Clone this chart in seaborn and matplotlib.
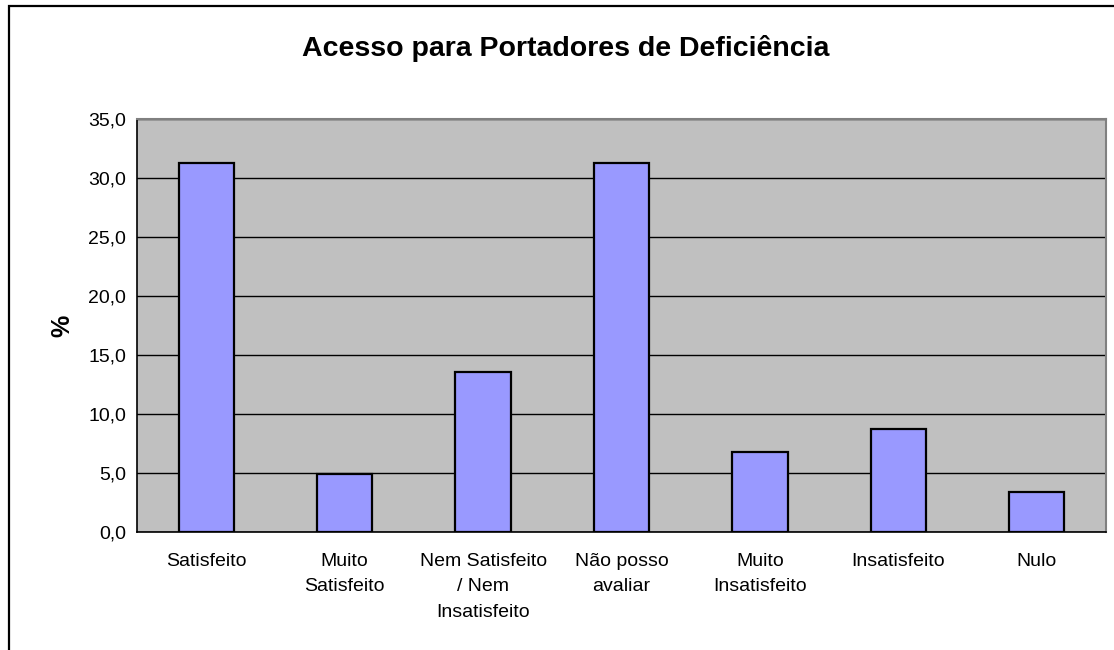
import numpy as np
import pandas as pd
import seaborn as sns
import matplotlib.pyplot as plt
from matplotlib.ticker import FuncFormatter, FixedLocator
from matplotlib.patches import Rectangle

categorias = ["Satisfeito", "Muito\nSatisfeito", "Nem Satisfeito\n/ Nem\nInsatisfeito",
              "Não posso\navaliar", "Muito\nInsatisfeito", "Insatisfeito", "Nulo"]
percentuais = [31.3, 4.9, 13.6, 31.3, 6.8, 8.7, 3.4]
yticks = [0, 5, 10, 15, 20, 25, 30, 35]

sns.set_style("white")
plt.rcParams["font.family"] = ["Liberation Sans", "DejaVu Sans"]
plt.rcParams["text.color"] = "black"
plt.rcParams["xtick.color"] = "black"
plt.rcParams["ytick.color"] = "black"
plt.rcParams["axes.labelcolor"] = "black"

df = pd.DataFrame({"categoria": categorias, "pct": percentuais})

fig = plt.figure(figsize=(11.14, 6.5), dpi=100)
ax = fig.add_axes([137 / 1114, 1 - 532 / 650, (1106 - 137) / 1114, (532 - 119) / 650])
ax.set_facecolor("#C0C0C0")

sns.barplot(data=df, x="categoria", y="pct", color="#9999FF", saturation=1,
            edgecolor="black", linewidth=1.6, width=0.4, ax=ax, zorder=3)

ax.set_ylim(0, 35)
ax.set_xlim(-0.5, len(categorias) - 0.5)
ax.set_yticks(yticks)
ax.yaxis.set_major_formatter(FuncFormatter(lambda v, p: f"{v:.1f}".replace(".", ",")))
ax.grid(axis="y", color="black", linewidth=1, zorder=1)
ax.set_axisbelow(True)

ax.xaxis.set_minor_locator(FixedLocator(np.arange(-0.5, len(categorias), 1.0)))
ax.tick_params(axis="x", which="major", length=0, pad=15, labelsize=14)
ax.tick_params(axis="x", which="minor", length=6, width=1, color="black", direction="out")
ax.tick_params(axis="y", length=5, width=1, color="black", direction="out", pad=3, labelsize=14)
for lbl in ax.get_xticklabels():
    lbl.set_linespacing(1.65)
    lbl.set_verticalalignment("top")

for side in ["left", "bottom"]:
    ax.spines[side].set_color("black")
    ax.spines[side].set_linewidth(1.2)
for side in ["top", "right"]:
    ax.spines[side].set_color("#808080")
    ax.spines[side].set_linewidth(1.5)

ax.set_xlabel("")
ax.set_ylabel("%", fontsize=18, fontweight="bold")
ax.yaxis.set_label_coords((74 - 137) / 969, 0.5)

fig.text(0.508, 1 - 49 / 650, "Acesso para Portadores de Deficiência", ha="center", va="center",
         fontsize=20.5, fontweight="bold")

fig.patches.append(Rectangle((8.5 / 1114, -0.1), 1.2, 1.1 - 5.5 / 650, transform=fig.transFigure,
                             fill=False, edgecolor="black", linewidth=1.6))

fig.savefig("out.png", dpi=100)
